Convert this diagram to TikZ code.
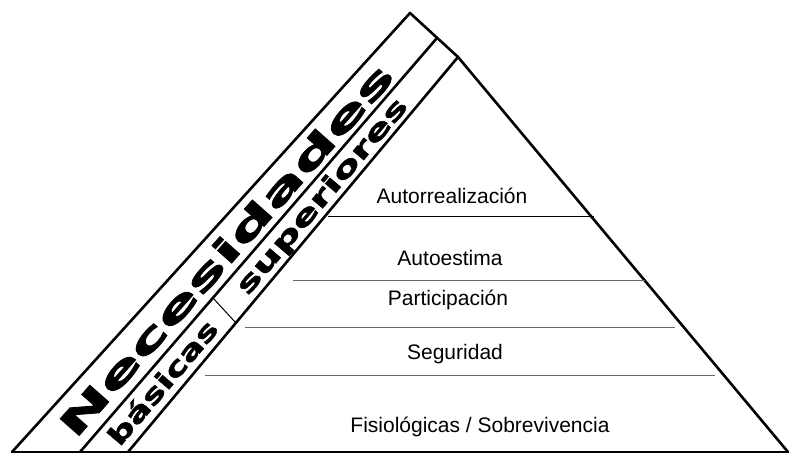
\documentclass[tikz,border=0pt]{standalone}
\usepackage{fontspec}
\setmainfont{Liberation Sans}
\newfontfamily\bandfont[BoldFeatures={FakeBold=1.5}]{DejaVu Sans}
\usepackage{tikz}
\usetikzlibrary{positioning}
\usepackage{xcolor}
\definecolor{pyrgray}{RGB}{105,105,105}
\tikzstyle{edge} = [line width=2.6pt, line cap=round, line join=round, black]
\tikzstyle{levelline} = [line width=1pt, pyrgray]
\tikzstyle{levellabel} = [anchor=base, inner sep=0pt, font=\fontsize{21}{25}\selectfont]
\tikzstyle{bandlabel} = [inner sep=0pt, font=\bandfont\bfseries]

\begin{document}
\begin{tikzpicture}[x=1pt, y=-1pt]
\useasboundingbox (0,0) rectangle (791,455);

% Corners of the bands and the pyramid
\coordinate (apex) at (410,13);
\coordinate (midtop) at (437,38);
\coordinate (top) at (458,57);
\coordinate (outerbase) at (12,452);
\coordinate (midbase) at (80,452);
\coordinate (leftbase) at (128,452);
\coordinate (rightbase) at (788,452);

% Bands along the left side
\draw[edge] (outerbase) -- (apex) -- (top);
\draw[edge] (midbase) -- (midtop);
\draw[line width=1pt] (213,298) -- (236,323);

% Pyramid
\draw[edge] (leftbase) -- (top) -- (rightbase);
\draw[edge] (outerbase) -- (rightbase);

% Levels
\draw[line width=1pt, black] (328,216) -- (594,216);
\draw[levelline] (293,280) -- (645,280);
\draw[levelline] (245,327) -- (675,327);
\draw[levelline] (205,375) -- (715,375);

\node (self) [levellabel] at (452,203) {Autorrealización};
\node (esteem) [levellabel] at (450,265) {Autoestima};
\node (partic) [levellabel] at (448,305) {Participación};
\node (safety) [levellabel] at (455,359) {Seguridad};
\node (physio) [levellabel] at (480,432) {Fisiológicas / Sobrevivencia};

% Band labels
\node (needs) [bandlabel, rotate=48.5] at (226,250) {\scalebox{1.95}[1]{\fontsize{35}{35}\selectfont Necesidades}};
\node (upper) [bandlabel, rotate=49.6] at (323,197) {\scalebox{1.6}[1]{\fontsize{26}{26}\selectfont superiores}};
\node (basic) [bandlabel, rotate=49.6] at (162,382) {\scalebox{1.42}[1]{\fontsize{26}{26}\selectfont básicas}};
\end{tikzpicture}
\end{document}
